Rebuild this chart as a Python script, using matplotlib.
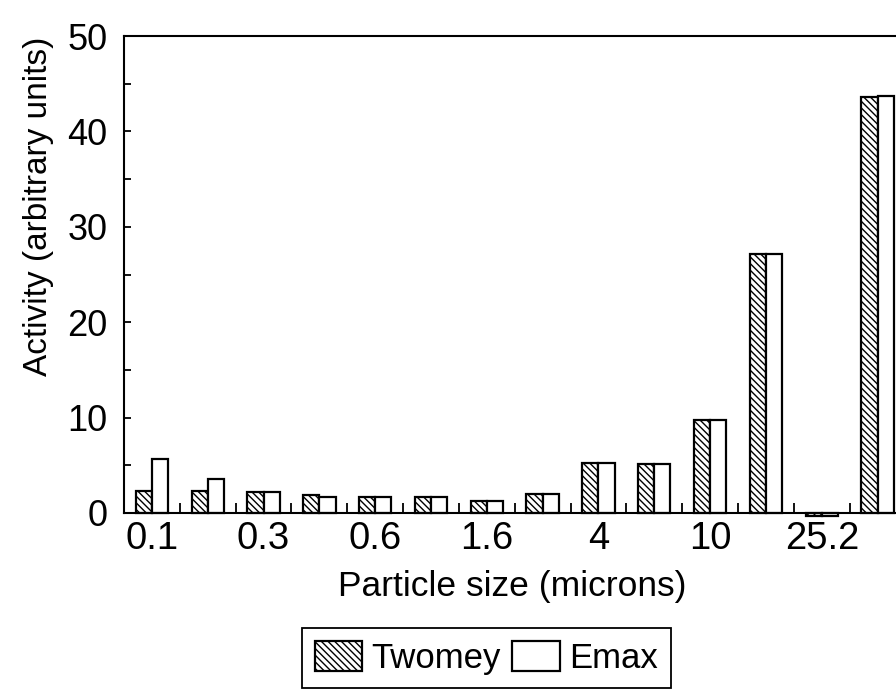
import matplotlib.pyplot as plt
import numpy as np

sizes = ['0.1', '', '0.3', '', '0.6', '', '1.6', '', '4', '', '10', '', '25.2', '']
twomey = [2.3, 2.3, 2.25, 1.9, 1.65, 1.65, 1.25, 2.0, 5.25, 5.1, 9.8, 27.2, -0.3, 43.6]
emax = [5.65, 3.6, 2.2, 1.7, 1.7, 1.65, 1.25, 2.0, 5.25, 5.1, 9.8, 27.2, -0.3, 43.7]

plt.rcParams['font.family'] = ['Liberation Sans', 'DejaVu Sans']
plt.rcParams['hatch.linewidth'] = 1.0

fig = plt.figure(figsize=(8.96, 6.93), dpi=100)
ax = fig.add_axes([124 / 896, (693 - 513) / 693, 1 - 124 / 896, (513 - 36) / 693])

x = np.arange(len(twomey))
w = 0.29
ax.bar(x - w / 2, twomey, w, color='white', edgecolor='black', hatch='\\\\\\\\\\',
       linewidth=1.6, label='Twomey', clip_on=False)
ax.bar(x + w / 2, emax, w, color='white', edgecolor='black',
       linewidth=1.6, label='Emax', clip_on=False)

ax.set_xlim(-0.5, 13.33)
ax.set_ylim(0, 50)
for s in ['left', 'top', 'bottom']:
    ax.spines[s].set_linewidth(1.5)
ax.spines['right'].set_visible(False)

ax.set_yticks(range(0, 51, 10))
ax.set_yticks(range(5, 50, 10), minor=True)
ax.tick_params(axis='y', which='both', direction='in', length=5, width=1.3, pad=12, labelsize=26)

ax.set_xticks(x)
ax.set_xticklabels(sizes, fontsize=27.5)
ax.set_xticks(x[:-1] + 0.5, minor=True)
ax.tick_params(axis='x', which='major', length=0, pad=6)
ax.tick_params(axis='x', which='minor', direction='in', length=7, width=1.3)

fig.text(512 / 896, (693 - 596) / 693, 'Particle size (microns)', ha='center', va='baseline', fontsize=25.5)
fig.text(38 / 896, (693 - 206) / 693, 'Activity (arbitrary units)', ha='center', va='center',
         rotation=90, fontsize=24)

leg = fig.legend(loc='upper left', bbox_to_anchor=(301.7 / 896, (693 - 628.3) / 693), ncol=2,
                 fontsize=25, fancybox=False, framealpha=1, edgecolor='black', borderaxespad=0,
                 borderpad=0.37, handlelength=1.37, handleheight=0.95, handletextpad=0.26,
                 columnspacing=0.34)
leg.get_frame().set_linewidth(1.3)

plt.savefig('out.png', dpi=100)
plt.close()
